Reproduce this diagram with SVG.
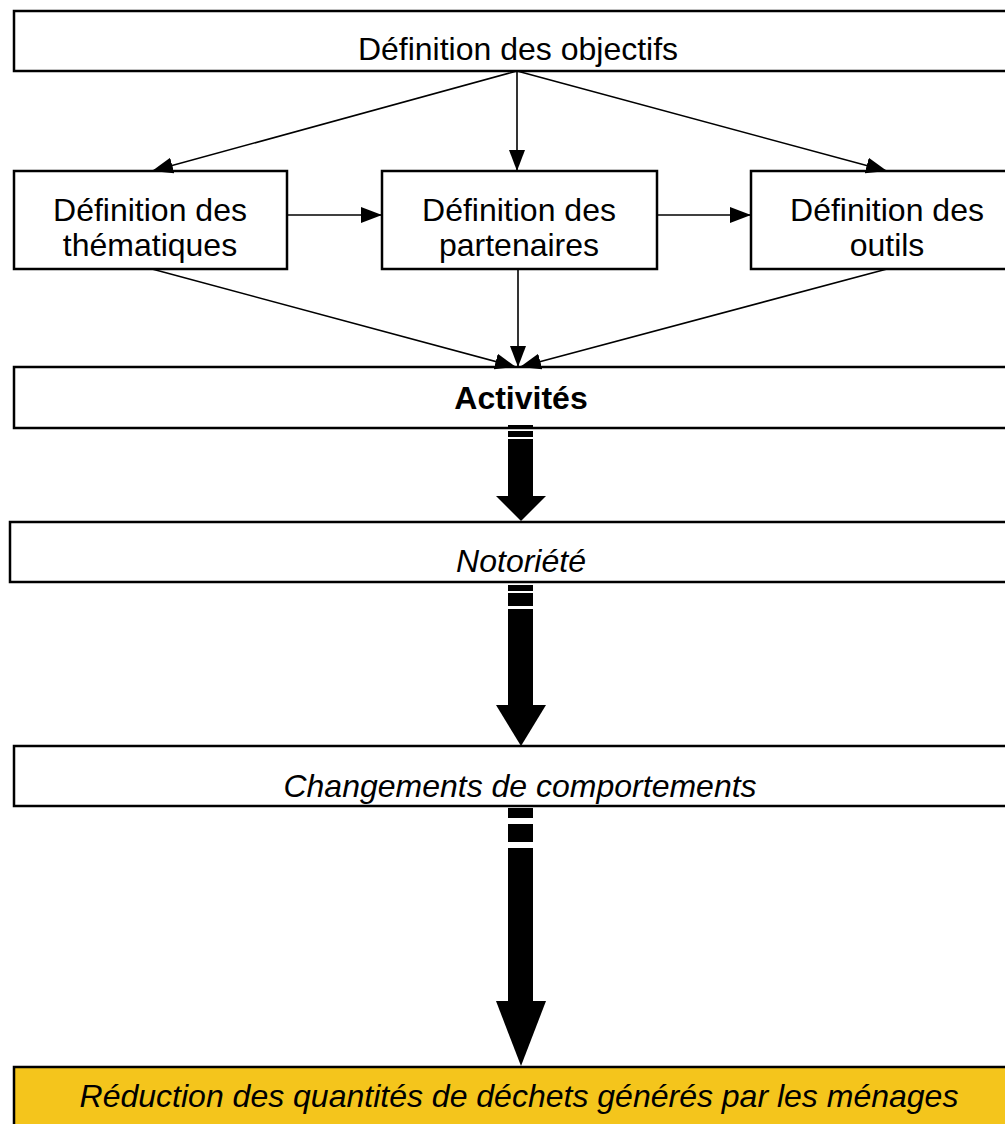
<svg xmlns="http://www.w3.org/2000/svg" width="1005" height="1124" viewBox="0 0 1005 1124">
<style>
.box{fill:#fff;stroke:#000;stroke-width:2.5}
.yel{fill:#F4C51C;stroke:#000;stroke-width:2.5}
.t{font-family:"Liberation Sans",Arial,sans-serif;font-size:32px;fill:#000;text-anchor:middle}
.b{font-weight:bold}
.i{font-style:italic}
.ln{stroke:#000;stroke-width:1.6;fill:none;marker-end:url(#ah)}
.big{fill:#000}
</style>
<defs>
<marker id="ah" markerUnits="userSpaceOnUse" markerWidth="22" markerHeight="18" refX="21" refY="8" orient="auto" viewBox="0 0 22 16">
<path d="M0,0 L21,8 L0,16 z" fill="#000"/>
</marker>
</defs>
<g id="n-objectifs"><rect class="box" x="14" y="11" width="1000" height="60"/><text class="t" x="518" y="60">Définition des objectifs</text></g>
<g id="n-thematiques"><rect class="box" x="14" y="171" width="273" height="98"/><text class="t" x="150" y="221">Définition des<tspan x="150" dy="35">thématiques</tspan></text></g>
<g id="n-partenaires"><rect class="box" x="382" y="171" width="275" height="98"/><text class="t" x="519" y="221">Définition des<tspan x="519" dy="35">partenaires</tspan></text></g>
<g id="n-outils"><rect class="box" x="751" y="171" width="270" height="98"/><text class="t" x="887" y="221">Définition des<tspan x="887" dy="35">outils</tspan></text></g>
<g id="n-activites"><rect class="box" x="14" y="367" width="1000" height="61"/><text class="t b" x="521" y="409">Activités</text></g>
<g id="n-notoriete"><rect class="box" x="10" y="522" width="1004" height="60"/><text class="t i" x="521" y="572">Notoriété</text></g>
<g id="n-changements"><rect class="box" x="14" y="746" width="1000" height="60"/><text class="t i" x="520" y="797">Changements de comportements</text></g>
<g id="n-reduction"><rect class="yel" x="14" y="1067" width="1000" height="70"/><text class="t i" x="519" y="1107">Réduction des quantités de déchets générés par les ménages</text></g>
<g id="connectors">
<line class="ln" x1="517" y1="71" x2="152" y2="171"/>
<line class="ln" x1="517" y1="71" x2="517" y2="171"/>
<line class="ln" x1="517" y1="71" x2="887" y2="171"/>
<line class="ln" x1="287" y1="215" x2="382" y2="215"/>
<line class="ln" x1="657" y1="215" x2="751" y2="215"/>
<line class="ln" x1="152" y1="269" x2="516" y2="367"/>
<line class="ln" x1="518" y1="269" x2="518" y2="367"/>
<line class="ln" x1="887" y1="269" x2="520" y2="367"/>
<g class="big">
<rect x="508" y="425" width="25" height="3"/>
<rect x="508" y="431" width="25" height="6"/>
<rect x="508" y="439" width="25" height="58"/>
<polygon points="496,496 546,496 521,521"/>
<rect x="508" y="585" width="25" height="6"/>
<rect x="508" y="593" width="25" height="13"/>
<rect x="508" y="609" width="25" height="97"/>
<polygon points="496,705 546,705 521,746"/>
<rect x="508" y="808" width="25" height="10"/>
<rect x="508" y="824" width="25" height="18"/>
<rect x="508" y="848" width="25" height="154"/>
<polygon points="496,1001 546,1001 521,1066"/>
</g>
</g>
</svg>
